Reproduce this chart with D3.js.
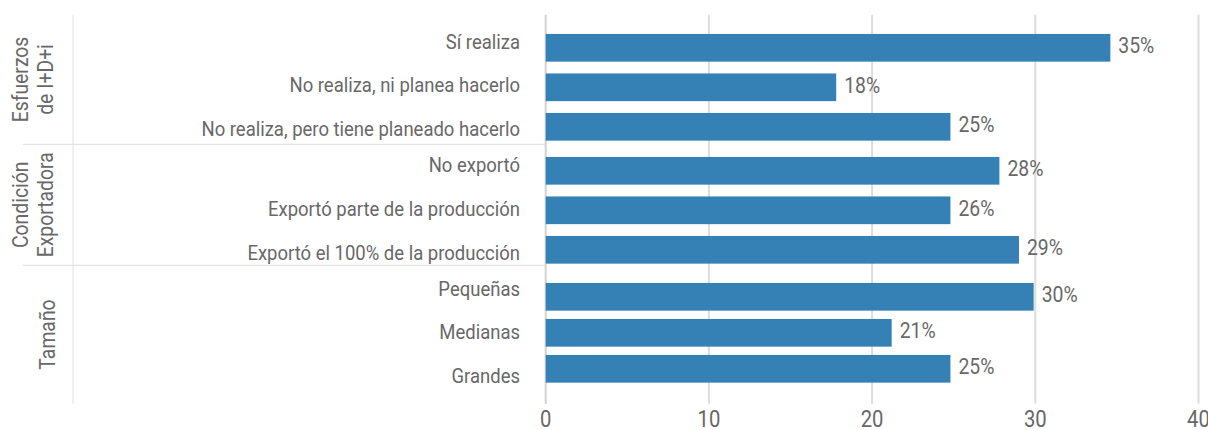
<!DOCTYPE html>
<html>
<head>
<meta charset="utf-8">
<script src="https://cdn.jsdelivr.net/npm/d3@7/dist/d3.min.js"></script>
<style>
  html, body { margin: 0; padding: 0; background: #fff; }
  svg text { font-family: Roboto, "Noto Sans", sans-serif; fill: #686868; }
</style>
</head>
<body>
<div id="chart"></div>
<script>
// --- data ---
const groupNames = [['Esfuerzos', 'de I+D+i'], ['Condición', 'Exportadora'], ['Tamaño']]
const categories = [
  'Sí realiza',
  'No realiza, ni planea hacerlo',
  'No realiza, pero tiene planeado hacerlo',
  'No exportó',
  'Exportó parte de la producción',
  'Exportó el 100% de la producción',
  'Pequeñas',
  'Medianas',
  'Grandes',
]
const groupOf = [0, 0, 0, 1, 1, 1, 2, 2, 2]
const values = [34.6, 17.8, 24.8, 27.8, 24.8, 29.0, 29.9, 21.2, 24.8]
const valueLabels = ['35%', '18%', '25%', '28%', '26%', '29%', '30%', '21%', '25%']
const xTicks = [0, 10, 20, 30, 40]

// --- layout ---
const width = 1208
const height = 430
const plotTop = 14.7
const plotBottom = 403.7
const groupBounds = [[plotTop, 144.3], [144.3, 265.3], [265.3, plotBottom]]
// bar centres (first / last) and label centres per group
const barSpan = [[47.8, 126.8], [170.8, 249.8], [296.8, 368.8]]
const labelSpan = [[41.5, 129], [165, 252.5], [288.5, 376]]
const barHeight = 27.7
const labelRight = 520
const condense = 0.88

const svg = d3.select('#chart').append('svg').attr('width', width).attr('height', height)

const x = d3.scaleLinear().domain([0, 40]).range([545.7, 1198.5])

// one point scale per group for bars and for category labels
const barY = groupNames.map((g, gi) =>
  d3.scalePoint().domain(categories.filter((c, i) => groupOf[i] === gi)).range(barSpan[gi]))
const labelY = groupNames.map((g, gi) =>
  d3.scalePoint().domain(categories.filter((c, i) => groupOf[i] === gi)).range(labelSpan[gi]))

// gridlines
svg.append('g')
  .selectAll('line')
  .data(xTicks)
  .join('line')
  .attr('x1', (d) => x(d))
  .attr('x2', (d) => x(d))
  .attr('y1', plotTop)
  .attr('y2', plotBottom)
  .attr('stroke', (d) => (d === 0 ? '#d2d2d2' : '#dcdcdc'))
  .attr('stroke-width', 2)

// group separators
svg.append('line')
  .attr('x1', 73).attr('x2', 73)
  .attr('y1', plotTop).attr('y2', plotBottom)
  .attr('stroke', '#e0e0e0').attr('stroke-width', 1)

svg.append('g')
  .selectAll('line')
  .data(groupBounds.slice(1))
  .join('line')
  .attr('x1', 23)
  .attr('x2', x(0))
  .attr('y1', (d) => d[0])
  .attr('y2', (d) => d[0])
  .attr('stroke', '#dcdcdc')
  .attr('stroke-width', 1)

// tick labels
svg.append('g')
  .selectAll('text')
  .data(xTicks)
  .join('text')
  .attr('x', (d) => x(d))
  .attr('y', 419)
  .attr('text-anchor', 'middle')
  .attr('dominant-baseline', 'central')
  .style('font-size', '23px')
  .text((d) => d)

// bars
const rows = categories.map((c, i) => ({ c, g: groupOf[i], v: values[i], label: valueLabels[i] }))

svg.append('g')
  .selectAll('rect')
  .data(rows)
  .join('rect')
  .attr('x', x(0))
  .attr('y', (d) => barY[d.g](d.c) - barHeight / 2)
  .attr('width', (d) => x(d.v) - x(0))
  .attr('height', barHeight)
  .attr('fill', '#3581b5')

// value labels
svg.append('g')
  .selectAll('text')
  .data(rows)
  .join('text')
  .attr('x', (d) => x(d.v) + 8)
  .attr('y', (d) => barY[d.g](d.c) - 2)
  .attr('dominant-baseline', 'central')
  .style('font-size', '22px')
  .text((d) => d.label)

// category labels
svg.append('g')
  .selectAll('text')
  .data(rows)
  .join('text')
  .attr('x', labelRight)
  .attr('y', (d) => labelY[d.g](d.c))
  .attr('text-anchor', 'end')
  .attr('dominant-baseline', 'central')
  .style('font-size', '21px')
  .text((d) => d.c)

// group titles (rotated)
groupNames.forEach((lines, gi) => {
  const cy = (groupBounds[gi][0] + groupBounds[gi][1]) / 2
  const xs = lines.length === 2 ? [20.5, 45.5] : [47]
  lines.forEach((t, li) => {
    svg.append('text')
      .attr('transform', `translate(${xs[li]},${cy}) rotate(-90)`)
      .attr('text-anchor', 'middle')
      .attr('dominant-baseline', 'central')
      .style('font-size', '22px')
      .text(t)
  })
})

// squeeze every label to look like a condensed face
svg.selectAll('text').each(function () {
  const len = this.getComputedTextLength()
  d3.select(this).attr('textLength', len * condense).attr('lengthAdjust', 'spacingAndGlyphs')
})
</script>
</body>
</html>
